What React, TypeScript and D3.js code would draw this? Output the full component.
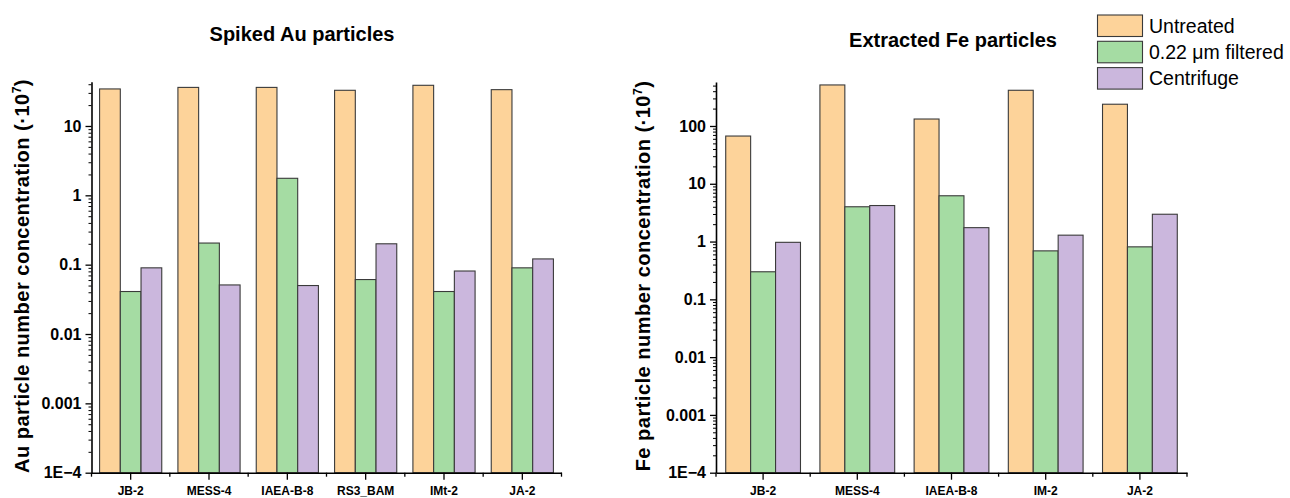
/**
 * Au / Fe particle number concentration, grouped log bars
 */
import React, { useEffect, useRef } from 'react'
import * as d3 from 'd3'

const seriesNames = ['Untreated', '0.22 μm filtered', 'Centrifuge']
const seriesColors = ['#fdd39a', '#a5dca3', '#cbb7dd']

const auSamples = ['JB-2', 'MESS-4', 'IAEA-B-8', 'RS3_BAM', 'IMt-2', 'JA-2']
const auUntreated = [34.2, 36, 36, 32.7, 38.6, 33.4]
const auFiltered = [0.041, 0.205, 1.76, 0.061, 0.041, 0.09]
const auCentrifuge = [0.09, 0.051, 0.05, 0.2, 0.081, 0.121]

const feSamples = ['JB-2', 'MESS-4', 'IAEA-B-8', 'IM-2', 'JA-2']
const feUntreated = [67, 513, 132, 415, 238]
const feFiltered = [0.3, 4.0, 6.2, 0.69, 0.81]
const feCentrifuge = [0.97, 4.2, 1.74, 1.29, 2.97]

const yTickValues = [1e-4, 0.001, 0.01, 0.1, 1, 10, 100]
const yTickLabels = ['1E−4', '0.001', '0.01', '0.1', '1', '10', '100']

const FONT = 'Liberation Sans, Arial, Helvetica, sans-serif'

interface PanelOpts {
  title: string
  titleX: number
  titleY: number
  element: string
  labelX: number
  labelY: number
  x0: number
  x1: number
  yTop: number
  yBottom: number
  yMax: number
  samples: string[]
  series: number[][]
}

const drawPanel = (svg: d3.Selection<SVGSVGElement, unknown, null, undefined>, o: PanelOpts) => {
  const x = d3.scaleBand<string>().domain(o.samples).range([o.x0, o.x1]).padding(0)
  const xs = d3
    .scaleBand<number>()
    .domain(d3.range(o.series.length))
    .range([0, x.bandwidth()])
    .paddingInner(0)
    .paddingOuter(0.39)
  const y = d3.scaleLog().domain([1e-4, o.yMax]).range([o.yBottom, o.yTop])

  const g = svg.append('g')

  // bars
  o.series.forEach((vals, si) => {
    g.selectAll(null)
      .data(o.samples)
      .enter()
      .append('rect')
      .attr('x', (d) => (x(d) || 0) + (xs(si) || 0))
      .attr('width', xs.bandwidth())
      .attr('y', (d, i) => y(vals[i]))
      .attr('height', (d, i) => o.yBottom - y(vals[i]))
      .attr('fill', seriesColors[si])
      .attr('stroke', '#3a3a3a')
      .attr('stroke-width', 1.1)
  })

  // minor y ticks
  const minor: number[] = []
  for (let e = -4; e <= 3; e++) {
    for (let m = 2; m <= 9; m++) {
      const v = m * Math.pow(10, e)
      if (v <= o.yMax) minor.push(v)
    }
  }
  const yMinor = g
    .append('g')
    .attr('transform', `translate(${o.x0},0)`)
    .call(d3.axisLeft(y).tickValues(minor).tickSize(3).tickSizeOuter(0).tickFormat(() => ''))
  yMinor.select('.domain').remove()
  yMinor.selectAll('line').attr('stroke', '#000').attr('stroke-width', 1)

  // major y axis
  const majors = yTickValues.filter((v) => v <= o.yMax)
  const yAxis = g
    .append('g')
    .attr('transform', `translate(${o.x0},0)`)
    .call(
      d3
        .axisLeft(y)
        .tickValues(majors)
        .tickSize(6)
        .tickSizeOuter(0)
        .tickPadding(4)
        .tickFormat((d) => yTickLabels[yTickValues.indexOf(d as number)])
    )
  yAxis.select('.domain').attr('stroke', '#000').attr('stroke-width', 1.6)
  yAxis.selectAll('line').attr('stroke', '#000').attr('stroke-width', 1.3)
  yAxis
    .selectAll('text')
    .attr('fill', '#000')
    .style('font-family', FONT)
    .style('font-size', '16px')
    .style('font-weight', 'bold')

  // boundary ticks on x
  const bounds = d3.range(o.samples.length + 1).map((k) => o.x0 + k * x.bandwidth())
  g.selectAll(null)
    .data(bounds)
    .enter()
    .append('line')
    .attr('x1', (d) => d)
    .attr('x2', (d) => d)
    .attr('y1', o.yBottom)
    .attr('y2', o.yBottom + 4)
    .attr('stroke', '#000')
    .attr('stroke-width', 1.3)

  // x axis
  const xAxis = g
    .append('g')
    .attr('transform', `translate(0,${o.yBottom})`)
    .call(d3.axisBottom(x).tickSize(7).tickSizeOuter(0).tickPadding(7))
  xAxis.select('.domain').attr('stroke', '#000').attr('stroke-width', 1.6)
  xAxis.selectAll('line').attr('stroke', '#000').attr('stroke-width', 1.3)
  xAxis
    .selectAll('text')
    .attr('fill', '#000')
    .style('font-family', FONT)
    .style('font-size', '12px')
    .style('font-weight', 'bold')

  // title
  g.append('text')
    .attr('x', o.titleX)
    .attr('y', o.titleY)
    .attr('text-anchor', 'middle')
    .style('font-family', FONT)
    .style('font-size', '20px')
    .style('font-weight', 'bold')
    .text(o.title)

  // y label
  const lab = g
    .append('text')
    .attr('transform', `translate(${o.labelX},${o.labelY}) rotate(-90)`)
    .attr('text-anchor', 'middle')
    .style('font-family', FONT)
    .style('font-size', '20px')
    .style('letter-spacing', '0.5px')
    .style('font-weight', 'bold')
  lab.append('tspan').text(`${o.element} particle number concentration (·10`)
  lab.append('tspan').attr('dy', -8).style('font-size', '12px').text('7')
  lab.append('tspan').attr('dy', 8).text(')')
}

const App = () => {
  const refSvg = useRef<SVGSVGElement>(null)

  useEffect(() => {
    if (!refSvg.current) return
    const svg = d3.select(refSvg.current)
    svg.selectAll('*').remove()

    drawPanel(svg, {
      title: 'Spiked Au particles',
      titleX: 302,
      titleY: 40.5,
      element: 'Au',
      labelX: 28.5,
      labelY: 276,
      x0: 91.5,
      x1: 561.5,
      yTop: 81.7,
      yBottom: 472.7,
      yMax: 43.5,
      samples: auSamples,
      series: [auUntreated, auFiltered, auCentrifuge],
    })

    drawPanel(svg, {
      title: 'Extracted Fe particles',
      titleX: 953,
      titleY: 46.5,
      element: 'Fe',
      labelX: 650,
      labelY: 276,
      x0: 716,
      x1: 1187,
      yTop: 82,
      yBottom: 472.7,
      yMax: 577,
      samples: feSamples,
      series: [feUntreated, feFiltered, feCentrifuge],
    })

    // legend
    const leg = svg.append('g')
    seriesNames.forEach((name, i) => {
      const top = 15 + i * 26.3
      leg
        .append('rect')
        .attr('x', 1097.5)
        .attr('y', top)
        .attr('width', 45)
        .attr('height', 21.5)
        .attr('fill', seriesColors[i])
        .attr('stroke', '#3a3a3a')
        .attr('stroke-width', 1.1)
      leg
        .append('text')
        .attr('x', 1149)
        .attr('y', top + 17.5)
        .style('font-family', FONT)
        .style('font-size', '19.5px')
        .text(name)
    })
  }, [])

  return (
    <svg
      ref={refSvg}
      width={1290}
      height={498}
      style={{ position: 'absolute', left: 0, top: 0, background: '#fff' }}
    />
  )
}

export default App
